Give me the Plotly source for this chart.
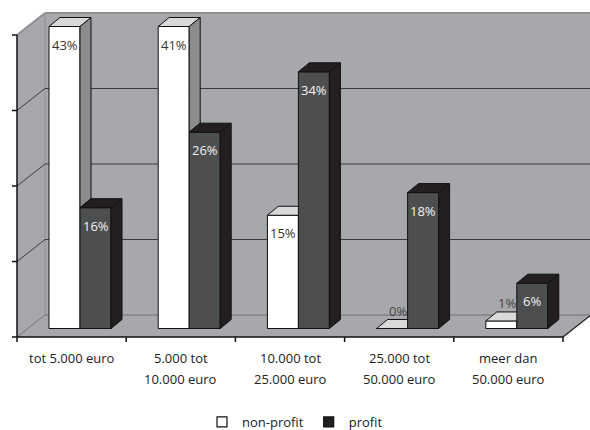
import plotly.graph_objects as go

# ---------------- data ----------------
categories = ["tot 5.000 euro", "5.000 tot\n10.000 euro", "10.000 tot\n25.000 euro",
              "25.000 tot\n50.000 euro", "meer dan\n50.000 euro"]
non_profit = [43, 41, 15, 0, 1]
profit = [16, 26, 34, 18, 6]
series_names = ["non-profit", "profit"]
y_ticks = [0, 10, 20, 30, 40]

# ---------------- layout calibration (pixels) ----------------
W, H = 590, 430
PX_CAT = 109.2      # pixels per category
PX_PCT = 7.55       # pixels per percent
X_LEFT_PX = 17      # pixel x of left edge of the category axis
Y_ZERO_PX = 337     # pixel y of value 0 on the front plane

def dx(p):
    return p / PX_CAT

def dy(p):
    return p / PX_PCT

xr = [-0.5 - dx(X_LEFT_PX), -0.5 + dx(W - X_LEFT_PX)]
yr = [-dy(H - Y_ZERO_PX), dy(Y_ZERO_PX)]

n = len(categories)
YMAX = y_ticks[-1]
XL, XR = -0.5, n - 0.5

# depth vectors
WALL_D = (dx(28), dy(22))
BAR_OFF = (dx(8.4), dy(8.5))
BAR_D = (dx(11), dy(9))
BAR_W = dx(31)

WALL = "#a7a8ab"
WALL_EDGE = "#8e8f92"
GRID = "#3a3a3a"
FLOOR_BACK = "#707174"
FONT = "Open Sans, Noto Sans, sans-serif"

styles = [
    dict(front="#ffffff", top="#d9d9d9", side="#8b8c8e", txt="#333333"),
    dict(front="#4d4e50", top="#231f20", side="#231f20", txt="#f2f2f2"),
]

fig = go.Figure()
shapes = []

def poly(pts):
    return "M " + " L ".join(f"{x},{y}" for x, y in pts) + " Z"

# walls / floor
back = [(XL + WALL_D[0], WALL_D[1]), (XR + WALL_D[0], WALL_D[1]),
        (XR + WALL_D[0], YMAX + WALL_D[1]), (XL + WALL_D[0], YMAX + WALL_D[1])]
left = [(XL, 0), (XL, YMAX), (XL + WALL_D[0], YMAX + WALL_D[1]), (XL + WALL_D[0], WALL_D[1])]
floor = [(XL, 0), (XR, 0), (XR + WALL_D[0], WALL_D[1]), (XL + WALL_D[0], WALL_D[1])]
for pts in (back, left, floor):
    shapes.append(dict(type="path", path=poly(pts), fillcolor=WALL,
                       line=dict(width=0), layer="below"))
# top edges of walls
shapes.append(dict(type="line", x0=XL + WALL_D[0], x1=XR + WALL_D[0],
                   y0=YMAX + WALL_D[1], y1=YMAX + WALL_D[1],
                   line=dict(color=WALL_EDGE, width=2), layer="below"))
shapes.append(dict(type="line", x0=XL, x1=XL + WALL_D[0], y0=YMAX, y1=YMAX + WALL_D[1],
                   line=dict(color=WALL_EDGE, width=2), layer="below"))
shapes.append(dict(type="line", x0=XL + WALL_D[0], x1=XL + WALL_D[0],
                   y0=WALL_D[1], y1=YMAX + WALL_D[1],
                   line=dict(color=WALL_EDGE, width=1), layer="below"))
# gridlines
for v in y_ticks[1:-1]:
    shapes.append(dict(type="line", x0=XL, x1=XL + WALL_D[0], y0=v, y1=v + WALL_D[1],
                       line=dict(color=GRID, width=1), layer="below"))
    shapes.append(dict(type="line", x0=XL + WALL_D[0], x1=XR + WALL_D[0],
                       y0=v + WALL_D[1], y1=v + WALL_D[1],
                       line=dict(color=GRID, width=1), layer="below"))
# floor back edge and left-floor edge
shapes.append(dict(type="line", x0=XL + WALL_D[0], x1=XR + WALL_D[0],
                   y0=WALL_D[1], y1=WALL_D[1], line=dict(color=FLOOR_BACK, width=1.2),
                   layer="below"))
shapes.append(dict(type="line", x0=XL, x1=XL + WALL_D[0], y0=0, y1=WALL_D[1],
                   line=dict(color=FLOOR_BACK, width=1), layer="below"))
# floor right edge
shapes.append(dict(type="line", x0=XR, x1=XR + WALL_D[0], y0=0, y1=WALL_D[1],
                   line=dict(color="#1a1a1a", width=1.2)))
# axes lines
shapes.append(dict(type="line", x0=XL, x1=XL, y0=0, y1=YMAX,
                   line=dict(color="#111111", width=1.5)))
shapes.append(dict(type="line", x0=XL, x1=XR, y0=0, y1=0,
                   line=dict(color="#111111", width=1.5)))
for v in y_ticks:
    shapes.append(dict(type="line", x0=XL - dx(5), x1=XL, y0=v, y1=v,
                       line=dict(color="#111111", width=1.5)))
for k in range(n + 1):
    shapes.append(dict(type="line", x0=XL + k, x1=XL + k, y0=0, y1=-dy(5),
                       line=dict(color="#111111", width=1.5)))

# ---------------- bars (front, top, side faces per series) ----------------
annotations = []
series = [non_profit, profit]
clipped = [[min(v, YMAX) for v in s] for s in series]
base = BAR_OFF[1]

for si, vals in enumerate(series):
    st = styles[si]
    fx, fy, tx, ty, sx, sy = [], [], [], [], [], []
    for i, v in enumerate(vals):
        h = clipped[si][i]
        x0 = i + BAR_OFF[0] - BAR_W + si * BAR_W
        x1 = x0 + BAR_W
        top = base + h
        fx += [x0, x1, x1, x0, x0, None]
        fy += [base, base, top, top, base, None]
        tx += [x0, x1, x1 + BAR_D[0], x0 + BAR_D[0], x0, None]
        ty += [top, top, top + BAR_D[1], top + BAR_D[1], top, None]
        # side face; for the first series only the part above the next bar is visible
        low = base
        if si == 0:
            low = min(base + clipped[1][i], top)
        if top > low:
            sx += [x1, x1, x1 + BAR_D[0], x1 + BAR_D[0], x1, None]
            sy += [low, top, top + BAR_D[1], low + BAR_D[1], low, None]
        # label
        if h * PX_PCT < 28:
            annotations.append(dict(x=(x0 + x1) / 2 + BAR_D[0] / 2,
                                    y=top + BAR_D[1] + dy(9), text=f"{v}%",
                                    showarrow=False, font=dict(color="#444444", size=13)))
        else:
            annotations.append(dict(x=(x0 + x1) / 2, y=top - dy(18), text=f"{v}%",
                                    showarrow=False, font=dict(color=st["txt"], size=13)))
    for xs, ys, col in ((fx, fy, st["front"]), (tx, ty, st["top"]), (sx, sy, st["side"])):
        if xs:
            fig.add_trace(go.Scatter(x=xs, y=ys, mode="lines", fill="toself", fillcolor=col,
                                     line=dict(color="#111111", width=1),
                                     showlegend=False, hoverinfo="skip"))

# legend entries
legend_colors = ["#ffffff", "#231f20"]
for name, col in zip(series_names, legend_colors):
    fig.add_trace(go.Scatter(x=[None], y=[None], mode="markers", name=name,
                             marker=dict(symbol="square", size=10, color=col,
                                         line=dict(color="#111111", width=1.2))))

# category labels
for i, c in enumerate(categories):
    for li, line in enumerate(c.split("\n")):
        annotations.append(dict(x=i, y=-dy(358 - Y_ZERO_PX + 21 * li), text=line,
                                showarrow=False, font=dict(color="#222222", size=13)))

fig.update_layout(
    width=W, height=H, margin=dict(l=0, r=0, t=0, b=0, autoexpand=False),
    paper_bgcolor="white", plot_bgcolor="white",
    font=dict(family=FONT, size=13, color="#222222"),
    xaxis=dict(range=xr, visible=False, domain=[0, 1]),
    yaxis=dict(range=yr, visible=False, domain=[0, 1]),
    shapes=shapes, annotations=annotations,
    showlegend=True,
    legend=dict(orientation="h", x=0.5, xanchor="center", y=(H - 422) / H,
                yanchor="middle", bgcolor="rgba(0,0,0,0)", font=dict(size=13),
                itemwidth=30),
)

fig.write_html("out.html")
